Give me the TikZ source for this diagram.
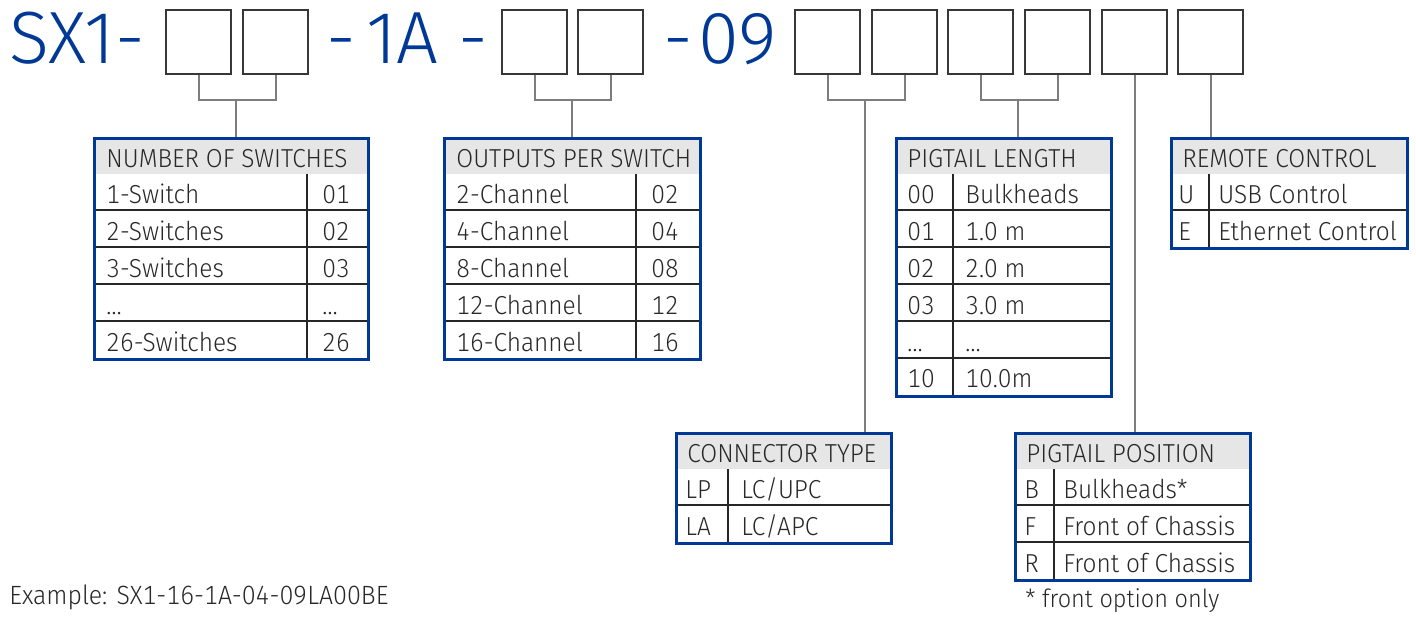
\documentclass[tikz,border=0pt]{standalone}
\usepackage{fontspec}
\setmainfont{Fira Sans Light}[FakeStretch=0.94, Numbers=Monospaced]
\newfontfamily\titlefont{Fira Sans Light}
\usepackage{xcolor}
\usetikzlibrary{positioning}

\definecolor{codeblue}{RGB}{0,56,150}
\definecolor{headgray}{RGB}{230,230,230}
\definecolor{linkgray}{RGB}{125,125,125}
\definecolor{boxgray}{RGB}{55,55,55}
\definecolor{inkgray}{RGB}{40,40,40}

\tikzstyle{codebox}  = [draw=boxgray, line width=1pt, minimum width=32.5pt, minimum height=32pt, inner sep=0pt, anchor=north west]
\tikzstyle{link}     = [draw=linkgray, line width=1pt]
\tikzstyle{tabframe} = [draw=codeblue, line width=1.6pt, inner sep=0pt, anchor=north west]
\tikzstyle{headfill} = [fill=headgray]
\tikzstyle{rowline}  = [line width=0.6pt, draw=black!85]
\tikzstyle{cell}     = [inner sep=0pt, anchor=base west, text=inkgray, font=\fontsize{13}{13}\selectfont]
\tikzstyle{note}     = [inner sep=0pt, anchor=base west, text=inkgray, font=\fontsize{12.5}{12.5}\selectfont]
\tikzstyle{title}    = [inner sep=0pt, anchor=base west, text=codeblue, font=\titlefont\fontsize{37}{37}\selectfont]

\begin{document}
\begin{tikzpicture}[x=0.5pt, y=-0.5pt]
\useasboundingbox (0,0) rectangle (1416,616);

% part number
\node[title] (pre) at (9,63) {SX1-};
\node[title] (d1)  at (326,63) {-};
\node[title] (mid) at (366,63) {1A};
\node[title] (d2)  at (458,63) {-};
\node[title] (d3)  at (663,63) {-};
\node[title] (suf) at (698,63) {09};

\node[codebox] (b1)  at (165,9) {};
\node[codebox] (b2)  at (242,9) {};
\node[codebox] (b3)  at (501,9) {};
\node[codebox] (b4)  at (577,9) {};
\node[codebox] (b5)  at (794,9) {};
\node[codebox] (b6)  at (871,9) {};
\node[codebox] (b7)  at (947,9) {};
\node[codebox] (b8)  at (1024,9) {};
\node[codebox] (b9)  at (1101,9) {};
\node[codebox] (b10) at (1177,9) {};

% number of switches
\fill[headfill] (93,137) rectangle (367,174);
\foreach \y in {210,247,284,321} \draw[rowline] (93,\y) -- (367,\y);
\draw[rowline] (307,174) -- (307,358);
\node[tabframe, minimum width=137pt, minimum height=110.5pt] (tNum) at (93,137) {};
\node[cell] (tNumH) at (106,167) {NUMBER OF SWITCHES};
\foreach \a/\b [count=\i] in {1-Switch/01, 2-Switches/02, 3-Switches/03, \ldots/\ldots, 26-Switches/26}{
  \node[cell] (num\i a) at (106,167+36.8*\i) {\a};
  \node[cell] (num\i b) at (322,167+36.8*\i) {\b};
}

% outputs per switch
\fill[headfill] (443,137) rectangle (699,174);
\foreach \y in {210,247,284,321} \draw[rowline] (443,\y) -- (699,\y);
\draw[rowline] (636,174) -- (636,358);
\node[tabframe, minimum width=128pt, minimum height=110.5pt] (tOut) at (443,137) {};
\node[cell] (tOutH) at (456,167) {OUTPUTS PER SWITCH};
\foreach \a/\b [count=\i] in {2-Channel/02, 4-Channel/04, 8-Channel/08, 12-Channel/12, 16-Channel/16}{
  \node[cell] (out\i a) at (456,167+36.8*\i) {\a};
  \node[cell] (out\i b) at (651,167+36.8*\i) {\b};
}

% pigtail length
\fill[headfill] (895,137) rectangle (1110,174);
\foreach \y in {210,247,284,321,358} \draw[rowline] (895,\y) -- (1110,\y);
\draw[rowline] (953,174) -- (953,395);
\node[tabframe, minimum width=107.5pt, minimum height=129pt] (tLen) at (895,137) {};
\node[cell] (tLenH) at (907,167) {PIGTAIL LENGTH};
\foreach \a/\b [count=\i] in {00/Bulkheads, 01/1.0 m, 02/2.0 m, 03/3.0 m, \ldots/\ldots, 10/10.0m}{
  \node[cell] (len\i a) at (907,167+36.8*\i) {\a};
  \node[cell] (len\i b) at (965,167+36.8*\i) {\b};
}

% remote control
\fill[headfill] (1170,137) rectangle (1406,174);
\draw[rowline] (1170,210) -- (1406,210);
\draw[rowline] (1209,174) -- (1209,247);
\node[tabframe, minimum width=118pt, minimum height=55pt] (tRem) at (1170,137) {};
\node[cell] (tRemH) at (1182,167) {REMOTE CONTROL};
\foreach \a/\b [count=\i] in {U/USB Control, E/Ethernet Control}{
  \node[cell] (rem\i a) at (1178,167+36.8*\i) {\a};
  \node[cell] (rem\i b) at (1218,167+36.8*\i) {\b};
}

% connector type
\fill[headfill] (675,432) rectangle (890,469);
\draw[rowline] (675,505) -- (890,505);
\draw[rowline] (728,469) -- (728,542);
\node[tabframe, minimum width=107.5pt, minimum height=55pt] (tCon) at (675,432) {};
\node[cell] (tConH) at (687,462) {CONNECTOR TYPE};
\foreach \a/\b [count=\i] in {LP/{LC/UPC}, LA/{LC/APC}}{
  \node[cell] (con\i a) at (685,462+36.8*\i) {\a};
  \node[cell] (con\i b) at (741,462+36.8*\i) {\b};
}

% pigtail position
\fill[headfill] (1014,432) rectangle (1249,469);
\foreach \y in {505,542} \draw[rowline] (1014,\y) -- (1249,\y);
\draw[rowline] (1054,469) -- (1054,579);
\node[tabframe, minimum width=117.5pt, minimum height=73.5pt] (tPos) at (1014,432) {};
\node[cell] (tPosH) at (1026,462) {PIGTAIL POSITION};
\foreach \a/\b [count=\i] in {B/Bulkheads*, F/Front of Chassis, R/Front of Chassis}{
  \node[cell] (pos\i a) at (1024,462+36.8*\i) {\a};
  \node[cell] (pos\i b) at (1063,462+36.8*\i) {\b};
}

% links
\coordinate (j1) at (236,100);
\coordinate (j2) at (571.5,100);
\coordinate (j3) at (865,100);
\coordinate (j4) at (1018,100);
\draw[link] (b1.south) |- (j1) -| (b2.south);
\draw[link] (b3.south) |- (j2) -| (b4.south);
\draw[link] (b5.south) |- (j3) -| (b6.south);
\draw[link] (b7.south) |- (j4) -| (b8.south);
\draw[link] (j1) -- (j1 |- tNum.north);
\draw[link] (j2) -- (j2 |- tOut.north);
\draw[link] (j3) -- (j3 |- tCon.north);
\draw[link] (j4) -- (j4 |- tLen.north);
\draw[link] (b9.south) -- (b9.south |- tPos.north);
\draw[link] (b10.south) -- (b10.south |- tRem.north);

\node[note, font=\fontsize{13.2}{13.2}\selectfont] (ex) at (9,604) {Example: SX1-16-1A-04-09LA00BE};
\node[note] (fn) at (1025,607) {* front option only};

\end{tikzpicture}
\end{document}
